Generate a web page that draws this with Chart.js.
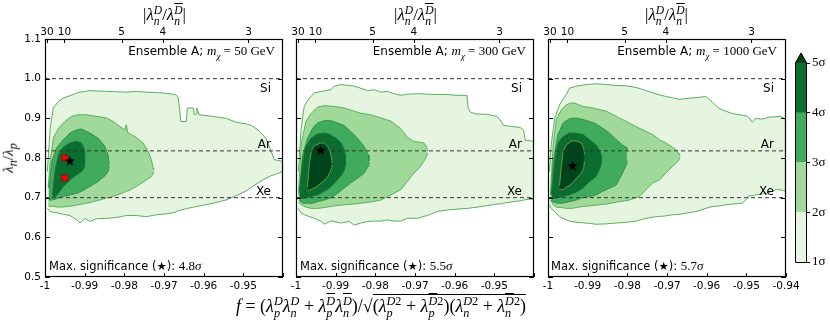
<!DOCTYPE html>
<html>
<head>
<meta charset="utf-8">
<script src="https://cdn.jsdelivr.net/npm/chart.js@4.4.1/dist/chart.umd.min.js"></script>
<style>
  body { margin: 0; background: #fff; }
  #fig { position: relative; width: 830px; height: 323px; overflow: hidden; }
  #fig canvas { position: absolute; top: 0; }
  .txt { position: absolute; white-space: nowrap; color: #000; line-height: 1; }
  .sans { font-family: "DejaVu Sans", sans-serif; }
  .m { font-family: "Liberation Serif", "DejaVu Serif", serif; }
  .ss { display: inline-block; vertical-align: middle; font-size: .68em; line-height: .95; text-align: left; }
  .ss span { display: block; }
  .ov { text-decoration: overline; }
  .rad { border-top: 1px solid #000; padding-top: 1px; }
</style>
</head>
<body>
<div id="fig">
  <canvas id="p0" width="290" height="323" style="left:0"></canvas>
  <canvas id="p1" width="291" height="323" style="left:250px"></canvas>
  <canvas id="p2" width="289" height="323" style="left:541px"></canvas>
  <canvas id="cb" width="120" height="323" style="left:710px"></canvas>
</div>
<script>
'use strict';

// axes
const xTickVals = [-1, -0.99, -0.98, -0.97, -0.96, -0.95, -0.94];
const xTickLabels = ['-1', '-0.99', '-0.98', '-0.97', '-0.96', '-0.95', '-0.94'];
const topTickVals = [-0.9995, -0.9951, -0.9807, -0.9703, -0.9487];
const topTickLabels = ['30', '10', '5', '4', '3'];
const yTickVals = [0.5, 0.6, 0.7, 0.8, 0.9, 1.0, 1.1];
const yTickLabels = ['0.5', '0.6', '0.7', '0.8', '0.9', '1.0', '1.1'];

// target elements
const ratioNames = ['Si', 'Ar', 'Xe'];
const ratioValues = [1.0, 0.818, 0.70];

// panels
const masses = ['50', '300', '1000'];
const maxSig = ['4.8', '5.5', '5.7'];
const starF = [-0.9937, -0.9938, -0.9938];
const starR = [0.793, 0.820, 0.781];
const benchF = [-0.995, -0.995];
const benchR = [0.80, 0.75];

// colour bar
const sigmaLevels = [1, 2, 3, 4, 5];
const sigmaBands = [[1, 2], [2, 3], [3, 4], [4, 5]];

// contour rows: [f, upper lambda_n/lambda_p, lower lambda_n/lambda_p]
const m50_1 = [
  [-0.9994, 0.766, 0.673], [-0.9987, 0.875, 0.665], [-0.9979, 0.926, 0.663], [-0.9966, 0.943, 0.661],
  [-0.9954, 0.951, 0.658], [-0.9937, 0.957, 0.655], [-0.9920, 0.964, 0.644], [-0.9912, 0.966, 0.636],
  [-0.9899, 0.968, 0.648], [-0.9887, 0.970, 0.640], [-0.9870, 0.969, 0.647], [-0.9845, 0.968, 0.648],
  [-0.9820, 0.967, 0.650], [-0.9795, 0.966, 0.655], [-0.9770, 0.968, 0.655], [-0.9745, 0.966, 0.652],
  [-0.9719, 0.965, 0.657], [-0.9694, 0.963, 0.659], [-0.9673, 0.960, 0.663], [-0.9665, 0.955, 0.667],
  [-0.9660, 0.920, 0.668], [-0.9658, 0.892, 0.669], [-0.9644, 0.892, 0.672], [-0.9641, 0.926, 0.673],
  [-0.9626, 0.926, 0.676], [-0.9624, 0.909, 0.676], [-0.9619, 0.911, 0.678], [-0.9617, 0.926, 0.678],
  [-0.9612, 0.909, 0.679], [-0.9585, 0.906, 0.684], [-0.9544, 0.900, 0.694], [-0.9518, 0.890, 0.705],
  [-0.9493, 0.886, 0.717], [-0.9477, 0.881, 0.728], [-0.9460, 0.868, 0.739], [-0.9443, 0.850, 0.749],
  [-0.9431, 0.820, 0.755], [-0.9422, 0.796, 0.758], [-0.9400, 0.791, 0.766]
];
const m50_2 = [
  [-0.9992, 0.724, 0.680], [-0.9987, 0.791, 0.678], [-0.9979, 0.850, 0.678], [-0.9966, 0.875, 0.676],
  [-0.9950, 0.892, 0.677], [-0.9933, 0.905, 0.679], [-0.9916, 0.909, 0.682], [-0.9895, 0.909, 0.686],
  [-0.9870, 0.905, 0.692], [-0.9845, 0.901, 0.699], [-0.9828, 0.892, 0.703], [-0.9812, 0.880, 0.709],
  [-0.9799, 0.871, 0.714], [-0.9795, 0.884, 0.716], [-0.9791, 0.863, 0.717], [-0.9782, 0.859, 0.721],
  [-0.9770, 0.852, 0.728], [-0.9753, 0.838, 0.739], [-0.9740, 0.817, 0.748], [-0.9732, 0.796, 0.753],
  [-0.9727, 0.774, 0.762], [-0.9726, 0.770, 0.766]
];
const m50_3 = [
  [-0.9990, 0.724, 0.694], [-0.9983, 0.791, 0.694], [-0.9971, 0.825, 0.697], [-0.9954, 0.846, 0.703],
  [-0.9937, 0.863, 0.707], [-0.9920, 0.871, 0.711], [-0.9908, 0.873, 0.716], [-0.9887, 0.863, 0.728],
  [-0.9866, 0.850, 0.741], [-0.9849, 0.829, 0.755], [-0.9841, 0.808, 0.766], [-0.9838, 0.783, 0.779]
];
const m50_4 = [
  [-0.9981, 0.707, 0.703], [-0.9975, 0.766, 0.703], [-0.9966, 0.808, 0.711], [-0.9954, 0.827, 0.728],
  [-0.9937, 0.838, 0.745], [-0.9920, 0.842, 0.758], [-0.9908, 0.838, 0.766], [-0.9901, 0.823, 0.776],
  [-0.9899, 0.800, 0.791]
];

const m300_1 = [
  [-0.9994, 0.766, 0.673], [-0.9987, 0.875, 0.661], [-0.9979, 0.932, 0.657], [-0.9966, 0.951, 0.652],
  [-0.9954, 0.964, 0.648], [-0.9937, 0.968, 0.641], [-0.9929, 0.969, 0.633], [-0.9912, 0.972, 0.641],
  [-0.9904, 0.981, 0.640], [-0.9887, 0.985, 0.636], [-0.9866, 0.983, 0.640], [-0.9853, 0.981, 0.631],
  [-0.9837, 0.976, 0.636], [-0.9820, 0.970, 0.640], [-0.9803, 0.972, 0.641], [-0.9786, 0.966, 0.641],
  [-0.9770, 0.968, 0.644], [-0.9753, 0.962, 0.641], [-0.9736, 0.958, 0.641], [-0.9719, 0.961, 0.648],
  [-0.9694, 0.962, 0.648], [-0.9669, 0.961, 0.655], [-0.9644, 0.960, 0.665], [-0.9619, 0.960, 0.669],
  [-0.9594, 0.958, 0.671], [-0.9569, 0.958, 0.673], [-0.9566, 0.925, 0.673], [-0.9560, 0.915, 0.674],
  [-0.9544, 0.911, 0.676], [-0.9518, 0.910, 0.680], [-0.9493, 0.905, 0.684], [-0.9481, 0.890, 0.684],
  [-0.9477, 0.882, 0.686], [-0.9460, 0.880, 0.689], [-0.9435, 0.877, 0.692], [-0.9426, 0.870, 0.694],
  [-0.9422, 0.845, 0.695], [-0.9400, 0.842, 0.697]
];
const m300_2 = [
  [-0.9994, 0.707, 0.690], [-0.9987, 0.833, 0.682], [-0.9975, 0.892, 0.676], [-0.9962, 0.912, 0.673],
  [-0.9946, 0.928, 0.673], [-0.9929, 0.932, 0.675], [-0.9904, 0.930, 0.679], [-0.9879, 0.926, 0.682],
  [-0.9853, 0.918, 0.684], [-0.9837, 0.913, 0.686], [-0.9812, 0.909, 0.689], [-0.9786, 0.901, 0.694],
  [-0.9761, 0.893, 0.707], [-0.9736, 0.874, 0.720], [-0.9719, 0.852, 0.741], [-0.9703, 0.842, 0.762],
  [-0.9690, 0.840, 0.774], [-0.9678, 0.838, 0.791], [-0.9671, 0.829, 0.804], [-0.9668, 0.818, 0.812]
];
const m300_3 = [
  [-0.9992, 0.716, 0.694], [-0.9983, 0.808, 0.686], [-0.9971, 0.850, 0.686], [-0.9958, 0.875, 0.686],
  [-0.9946, 0.888, 0.690], [-0.9929, 0.894, 0.694], [-0.9912, 0.894, 0.700], [-0.9895, 0.888, 0.711],
  [-0.9879, 0.882, 0.724], [-0.9862, 0.867, 0.737], [-0.9845, 0.850, 0.749], [-0.9828, 0.829, 0.762],
  [-0.9818, 0.808, 0.779], [-0.9816, 0.793, 0.790]
];
const m300_4 = [
  [-0.9991, 0.716, 0.699], [-0.9983, 0.791, 0.699], [-0.9975, 0.829, 0.699], [-0.9962, 0.850, 0.703],
  [-0.9946, 0.860, 0.707], [-0.9929, 0.863, 0.716], [-0.9916, 0.860, 0.724], [-0.9899, 0.850, 0.741],
  [-0.9887, 0.838, 0.755], [-0.9879, 0.823, 0.768], [-0.9874, 0.800, 0.787]
];
const m300_5 = [
  [-0.9971, 0.728, 0.717], [-0.9966, 0.791, 0.720], [-0.9962, 0.812, 0.720], [-0.9958, 0.827, 0.722],
  [-0.9950, 0.833, 0.726], [-0.9937, 0.838, 0.737], [-0.9929, 0.838, 0.743], [-0.9920, 0.829, 0.753],
  [-0.9914, 0.817, 0.764], [-0.9910, 0.800, 0.776], [-0.9909, 0.787, 0.783]
];

const m1000_1 = [
  [-0.9996, 0.766, 0.682], [-0.9992, 0.833, 0.673], [-0.9983, 0.901, 0.665], [-0.9971, 0.934, 0.652],
  [-0.9954, 0.960, 0.644], [-0.9946, 0.976, 0.641], [-0.9929, 0.981, 0.638], [-0.9904, 0.985, 0.636],
  [-0.9879, 0.987, 0.633], [-0.9853, 0.985, 0.634], [-0.9828, 0.983, 0.636], [-0.9803, 0.982, 0.638],
  [-0.9778, 0.978, 0.641], [-0.9753, 0.970, 0.648], [-0.9728, 0.962, 0.652], [-0.9703, 0.955, 0.654],
  [-0.9686, 0.952, 0.657], [-0.9669, 0.948, 0.658], [-0.9652, 0.950, 0.661], [-0.9627, 0.952, 0.665],
  [-0.9602, 0.955, 0.673], [-0.9585, 0.940, 0.678], [-0.9569, 0.925, 0.679], [-0.9552, 0.918, 0.682],
  [-0.9535, 0.912, 0.684], [-0.9510, 0.908, 0.686], [-0.9497, 0.905, 0.699], [-0.9493, 0.901, 0.705],
  [-0.9485, 0.890, 0.705], [-0.9477, 0.900, 0.707], [-0.9460, 0.898, 0.709], [-0.9443, 0.903, 0.713],
  [-0.9426, 0.904, 0.720], [-0.9414, 0.905, 0.720], [-0.9400, 0.897, 0.716]
];
const m1000_2 = [
  [-0.9994, 0.707, 0.694], [-0.9987, 0.833, 0.682], [-0.9979, 0.897, 0.676], [-0.9966, 0.922, 0.675],
  [-0.9954, 0.934, 0.673], [-0.9941, 0.939, 0.673], [-0.9929, 0.937, 0.675], [-0.9912, 0.930, 0.678],
  [-0.9887, 0.926, 0.680], [-0.9853, 0.918, 0.684], [-0.9820, 0.901, 0.690], [-0.9795, 0.888, 0.694],
  [-0.9770, 0.875, 0.703], [-0.9753, 0.867, 0.720], [-0.9736, 0.859, 0.737], [-0.9719, 0.846, 0.745],
  [-0.9703, 0.838, 0.762], [-0.9686, 0.827, 0.779], [-0.9673, 0.817, 0.791], [-0.9667, 0.806, 0.801]
];
const m1000_3 = [
  [-0.9992, 0.707, 0.694], [-0.9987, 0.791, 0.689], [-0.9975, 0.859, 0.686], [-0.9962, 0.888, 0.686],
  [-0.9946, 0.899, 0.690], [-0.9929, 0.901, 0.694], [-0.9912, 0.897, 0.700], [-0.9895, 0.892, 0.703],
  [-0.9879, 0.886, 0.707], [-0.9862, 0.875, 0.716], [-0.9845, 0.863, 0.724], [-0.9828, 0.846, 0.732],
  [-0.9812, 0.833, 0.762], [-0.9803, 0.827, 0.783], [-0.9801, 0.821, 0.796]
];
const m1000_4 = [
  [-0.9991, 0.707, 0.699], [-0.9983, 0.791, 0.699], [-0.9975, 0.838, 0.700], [-0.9962, 0.854, 0.703],
  [-0.9946, 0.863, 0.707], [-0.9929, 0.863, 0.714], [-0.9912, 0.859, 0.724], [-0.9895, 0.846, 0.741],
  [-0.9879, 0.833, 0.753], [-0.9869, 0.817, 0.774], [-0.9864, 0.800, 0.791]
];
const m1000_5 = [
  [-0.9971, 0.732, 0.720], [-0.9966, 0.783, 0.720], [-0.9962, 0.817, 0.720], [-0.9954, 0.833, 0.726],
  [-0.9941, 0.843, 0.734], [-0.9929, 0.843, 0.748], [-0.9916, 0.838, 0.762], [-0.9910, 0.825, 0.776],
  [-0.9908, 0.808, 0.791]
];

const contours = [
  [m50_1, m50_2, m50_3, m50_4],
  [m300_1, m300_2, m300_3, m300_4, m300_5],
  [m1000_1, m1000_2, m1000_3, m1000_4, m1000_5]
];

const fills = ['#e5f5e0', '#a1d99b', '#41ab5d', '#0b6d2f', '#00441b'];
const edges = ['#5aaf5c', '#58b25e', '#2f9148', '#1c7236', '#6b9a45'];

// layout (page px): frames and the canvases holding them
const plotLeft = [45, 296, 547];
const plotRight = [284, 535, 786];
const canvasLeft = [0, 250, 541];
const canvasWidth = [290, 291, 289];

Chart.defaults.font.family = '"DejaVu Sans", sans-serif';
Chart.defaults.font.size = 10.5;
Chart.defaults.color = '#000';

function starImage(size) {
  const c = document.createElement('canvas');
  c.width = c.height = size;
  const g = c.getContext('2d');
  g.fillStyle = '#000';
  g.beginPath();
  for (let i = 0; i < 10; i++) {
    const r = i % 2 ? size * 0.2 : size / 2;
    const a = -Math.PI / 2 + i * Math.PI / 5;
    g.lineTo(size / 2 + r * Math.cos(a), size / 2 + r * Math.sin(a) + 0.5);
  }
  g.closePath();
  g.fill();
  return c;
}
const starImg = starImage(11);

const panelDeco = {
  id: 'panelDeco',
  afterDatasetsDraw(chart, args, opts) {
    const { ctx, chartArea: a, scales } = chart;
    const { x, xTop, y } = scales;
    ctx.save();
    ctx.fillStyle = '#000';
    ctx.font = '12px "DejaVu Sans"';
    ctx.textAlign = 'right';
    ratioNames.forEach((n, k) => {
      const py = y.getPixelForValue(ratioValues[k]);
      ctx.fillText(n, a.right - 12, k === 0 ? py + 13 : py - 3);
    });
    // bottom tick labels (the frame's last one is left out where the next frame starts)
    ctx.font = '10.5px "DejaVu Sans"';
    ctx.textAlign = 'center';
    ctx.textBaseline = 'alphabetic';
    xTickVals.forEach((v, j) => {
      if (opts.skipLast && j === xTickVals.length - 1) return;
      ctx.fillText(xTickLabels[j], x.getPixelForValue(v), a.bottom + 12);
    });
    ctx.strokeStyle = '#000';
    ctx.lineWidth = 1;
    ctx.beginPath();
    xTickVals.forEach(v => {
      const p = Math.round(x.getPixelForValue(v)) + 0.5;
      ctx.moveTo(p, a.bottom); ctx.lineTo(p, a.bottom - 4);
    });
    topTickVals.forEach(v => {
      const p = Math.round(xTop.getPixelForValue(v)) + 0.5;
      ctx.moveTo(p, a.top); ctx.lineTo(p, a.top + 4);
    });
    yTickVals.forEach(v => {
      const p = Math.round(y.getPixelForValue(v)) + 0.5;
      ctx.moveTo(a.left, p); ctx.lineTo(a.left + 5, p);
      ctx.moveTo(a.right, p); ctx.lineTo(a.right - 5, p);
    });
    ctx.stroke();
    ctx.lineWidth = 1.2;
    ctx.strokeRect(a.left + 0.5, a.top + 0.5, a.right - a.left - 1, a.bottom - a.top - 1);
    ctx.restore();
  }
};

function buildPanel(i) {
  const datasets = [];
  contours[i].forEach((rows, k) => {
    datasets.push({
      data: rows.map(r => ({ x: r[0], y: r[2] })),
      borderColor: edges[k], borderWidth: 1, pointRadius: 0, fill: false, order: 10 - k
    });
    datasets.push({
      data: rows.map(r => ({ x: r[0], y: r[1] })),
      borderColor: edges[k], borderWidth: 1, pointRadius: 0,
      fill: '-1', backgroundColor: fills[k], order: 10 - k
    });
  });
  ratioValues.forEach(v => datasets.push({
    data: [{ x: xTickVals[0], y: v }, { x: xTickVals[xTickVals.length - 1], y: v }],
    borderColor: '#333', borderWidth: 1, borderDash: [4, 3], pointRadius: 0, fill: false, order: 1
  }));
  if (i === 0) {
    datasets.push({
      data: benchF.map((f, j) => ({ x: f, y: benchR[j] })),
      showLine: false, pointStyle: 'rect', pointRadius: 4.2,
      backgroundColor: '#ff0000', borderColor: '#990000', borderWidth: 0.8, order: 0
    });
  }
  datasets.push({
    data: [{ x: starF[i], y: starR[i] }],
    showLine: false, pointStyle: starImg, pointRadius: 6, order: -1
  });

  const padLeft = i === 0 ? 0 : plotLeft[i] - canvasLeft[i];
  const padRight = canvasLeft[i] + canvasWidth[i] - plotRight[i];

  new Chart(document.getElementById('p' + i), {
    type: 'line',
    data: { datasets },
    options: {
      responsive: false,
      animation: false,
      events: [],
      layout: { padding: { left: padLeft, right: padRight, top: 0, bottom: 0 } },
      plugins: { legend: { display: false }, tooltip: { enabled: false }, panelDeco: { skipLast: i < 2 } },
      scales: {
        x: {
          type: 'linear', position: 'bottom', min: -1, max: -0.94,
          grid: { display: false, drawTicks: false }, border: { display: false },
          afterBuildTicks: s => { s.ticks = xTickVals.map(v => ({ value: v })); },
          afterFit: s => { s.height = 46; },
          ticks: { display: false }
        },
        xTop: {
          type: 'linear', position: 'top', min: -1, max: -0.94,
          grid: { display: false, drawTicks: false }, border: { display: false },
          afterBuildTicks: s => { s.ticks = topTickVals.map(v => ({ value: v })); },
          afterFit: s => { s.height = 39; },
          ticks: { autoSkip: false, maxRotation: 0, padding: 0, callback: (v, j) => topTickLabels[j] }
        },
        y: {
          type: 'linear', min: 0.5, max: 1.1, display: i === 0,
          grid: { display: false, drawTicks: false }, border: { display: false },
          afterBuildTicks: s => { s.ticks = yTickVals.map(v => ({ value: v })); },
          afterFit: s => { s.width = i === 0 ? 45 : 0; },
          ticks: { padding: 4, callback: (v, j) => yTickLabels[j] }
        }
      }
    },
    plugins: [panelDeco]
  });
}
[0, 1, 2].forEach(buildPanel);

const cbDeco = {
  id: 'cbDeco',
  afterDatasetsDraw(chart) {
    const { ctx, chartArea: a, scales: { y } } = chart;
    const top = y.getPixelForValue(sigmaLevels[sigmaLevels.length - 1]);
    const bot = y.getPixelForValue(sigmaLevels[0]);
    const mid = (a.left + a.right) / 2;
    ctx.save();
    ctx.beginPath();
    ctx.moveTo(a.left, top); ctx.lineTo(mid, top - 10); ctx.lineTo(a.right, top); ctx.closePath();
    ctx.fillStyle = fills[4];
    ctx.fill();
    ctx.beginPath();
    ctx.moveTo(a.left + 0.5, bot + 0.5); ctx.lineTo(a.left + 0.5, top); ctx.lineTo(mid, top - 10);
    ctx.lineTo(a.right - 0.5, top); ctx.lineTo(a.right - 0.5, bot + 0.5); ctx.closePath();
    ctx.strokeStyle = '#000'; ctx.lineWidth = 1;
    ctx.stroke();
    ctx.restore();
  }
};

// colour bar canvas starts at page x = 710
new Chart(document.getElementById('cb'), {
  type: 'bar',
  data: {
    labels: [''],
    datasets: sigmaBands.map((b, k) => ({
      data: [b], backgroundColor: fills[k], borderWidth: 0,
      barPercentage: 1, categoryPercentage: 1, grouped: false
    }))
  },
  options: {
    responsive: false, animation: false, events: [],
    layout: { padding: { left: 85, right: 0, top: 63, bottom: 61 } },
    plugins: { legend: { display: false }, tooltip: { enabled: false } },
    scales: {
      x: { display: false },
      y: {
        position: 'right', min: 1, max: 5,
        grid: { drawOnChartArea: false, tickLength: 3, color: '#000' }, border: { display: false },
        afterBuildTicks: s => { s.ticks = sigmaLevels.map(v => ({ value: v })); },
        afterFit: s => { s.width = 23; },
        ticks: { padding: 2, font: { family: '"Liberation Serif", serif', size: 13 }, callback: (v, j) => sigmaLevels[j] + 'σ' }
      }
    }
  },
  plugins: [cbDeco]
});

// text overlays
const fig = document.getElementById('fig');
function addText(html, cls, css) {
  const d = document.createElement('div');
  d.className = 'txt ' + cls;
  d.innerHTML = html;
  Object.assign(d.style, css);
  fig.appendChild(d);
}
function ss(sup, sub) {
  return '<span class="ss"><span>' + sup + '</span><span>' + sub + '</span></span>';
}
const L = '<i>λ</i>';
const D = '<i>D</i>';
const Db = '<i class="ov">D</i>';
const n = '<i>n</i>';
const p = '<i>p</i>';

[0, 1, 2].forEach(i => {
  addText('|' + L + ss(D, n) + '/' + L + ss(Db, n) + '|', 'm',
    { left: (plotLeft[i] + 119.5) + 'px', top: '5px', fontSize: '17px', transform: 'translateX(-50%)' });
  addText('Ensemble A; <span class="m" style="font-size:13px"><i>m</i><sub style="font-size:9px"><i>χ</i></sub> = ' + masses[i] + ' GeV</span>', 'sans',
    { right: (830 - plotRight[i] + 9) + 'px', top: '44px', fontSize: '12px' });
  addText('Max. significance (★): <span class="m" style="font-size:13px">' + maxSig[i] + '<i>σ</i></span>', 'sans',
    { left: (plotLeft[i] + 4) + 'px', top: '259px', fontSize: '11.5px' });
});

addText(L + '<sub><i>n</i></sub>/' + L + '<sub><i>p</i></sub>', 'm',
  { left: '10px', top: '158px', fontSize: '15px', transform: 'translate(-50%,-50%) rotate(-90deg)' });

addText('<i>f</i> = (' + L + ss(D, p) + L + ss(D, n) + ' + ' + L + ss(Db, p) + L + ss(Db, n) + ')/√<span class="rad">(' +
  L + ss(D + '2', p) + ' + ' + L + ss(Db + '2', p) + ')(' + L + ss(D + '2', n) + ' + ' + L + ss(Db + '2', n) + ')</span>', 'm',
  { left: '381px', top: '296px', fontSize: '18px', transform: 'translateX(-50%)' });
</script>
</body>
</html>
